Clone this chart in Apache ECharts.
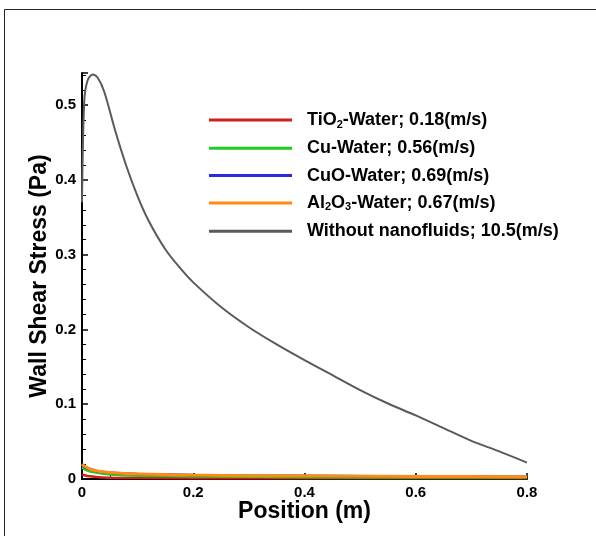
<!DOCTYPE html>
<html>
<head>
<meta charset="utf-8">
<script src="https://cdn.jsdelivr.net/npm/echarts@6/dist/echarts.min.js"></script>
<style>
  html, body { margin: 0; padding: 0; background: #fff; }
  #chart { width: 596px; height: 536px; }
</style>
</head>
<body>
<div id="chart"></div>
<script>
// position (m) / wall shear stress (Pa)
const tio2Data = [[0, 0.006], [0.01, 0.004], [0.03, 0.0025], [0.06, 0.0015], [0.1, 0.0012], [0.3, 0.001], [0.5, 0.001], [0.8, 0.001]];
const cuData = [[0, 0.016], [0.005, 0.013], [0.015, 0.010], [0.03, 0.008], [0.05, 0.006], [0.1, 0.0045], [0.2, 0.0035], [0.4, 0.0025], [0.6, 0.002], [0.8, 0.002]];
const cuoData = [[0, 0.019], [0.005, 0.016], [0.015, 0.013], [0.03, 0.010], [0.05, 0.0085], [0.1, 0.0068], [0.2, 0.0052], [0.3, 0.0045], [0.45, 0.004], [0.6, 0.0035], [0.8, 0.003]];
const al2o3Data = [[0, 0.02], [0.005, 0.017], [0.015, 0.013], [0.03, 0.0105], [0.05, 0.0088], [0.1, 0.0068], [0.2, 0.0052], [0.3, 0.0045], [0.45, 0.004], [0.6, 0.0035], [0.8, 0.003]];
const waterData = [[0, 0.37], [0.004, 0.505], [0.01, 0.533], [0.019, 0.541], [0.028, 0.537], [0.04, 0.518], [0.06, 0.465], [0.08, 0.418], [0.1, 0.378], [0.12, 0.345], [0.15, 0.307], [0.18, 0.279], [0.2, 0.263], [0.25, 0.23], [0.3, 0.203], [0.35, 0.18], [0.4, 0.159], [0.45, 0.139], [0.5, 0.119], [0.55, 0.101], [0.6, 0.085], [0.65, 0.068], [0.7, 0.051], [0.75, 0.037], [0.8, 0.022]];

const seriesNames = ["TiO2", "Cu", "CuO", "Al2O3", "Without"];
const legendLabels = {
  TiO2: "{n|TiO}{s|2}{n|-Water; 0.18(m/s)}",
  Cu: "{n|Cu-Water; 0.56(m/s)}",
  CuO: "{n|CuO-Water; 0.69(m/s)}",
  Al2O3: "{n|Al}{s|2}{n|O}{s|3}{n|-Water; 0.67(m/s)}",
  Without: "{n|Without nanofluids; 10.5(m/s)}"
};
const seriesColors = ["#cc1f1f", "#1fcc1f", "#2b2bdd", "#ff8a14", "#5a5a5a"];
const seriesData = [tio2Data, cuData, cuoData, al2o3Data, waterData];

const font = "'Liberation Sans', Arial, sans-serif";

const chart = echarts.init(document.getElementById("chart"));

const option = {
  backgroundColor: "#fff",
  animation: false,
  grid: { left: 82, right: 69, top: 73, bottom: 57 },
  graphic: [
    {
      type: "rect",
      shape: { x: 4.5, y: 9.5, width: 800, height: 800 },
      style: { fill: "none", stroke: "#222", lineWidth: 1 },
      silent: true,
      z: -1
    }
  ],
  legend: {
    orient: "vertical",
    left: 204,
    top: 106,
    icon: "rect",
    itemWidth: 83,
    itemHeight: 3,
    itemGap: 9.3,
    data: seriesNames,
    formatter: (name) => legendLabels[name],
    textStyle: {
      rich: {
        n: { fontFamily: font, fontWeight: "bold", fontSize: 18, color: "#000", lineHeight: 20 },
        s: { fontFamily: font, fontWeight: "bold", fontSize: 11, color: "#000", verticalAlign: "bottom", lineHeight: 14, padding: [8, 0, 0, 0] }
      },
      padding: [0, 0, 0, 10]
    }
  },
  xAxis: {
    type: "value",
    min: 0,
    max: 0.8,
    interval: 0.2,
    name: "Position (m)",
    nameLocation: "middle",
    nameGap: 21,
    nameMoveOverlap: false,
    nameTextStyle: { fontFamily: font, fontWeight: "bold", fontSize: 23, color: "#000", verticalAlign: "top" },
    axisLine: { lineStyle: { color: "#000", width: 2 } },
    axisTick: { inside: true, length: 6, lineStyle: { color: "#000", width: 1.5 } },
    minorTick: { show: true, splitNumber: 4, length: 4, lineStyle: { color: "#000", width: 1 } },
    axisLabel: { fontFamily: font, fontWeight: "bold", fontSize: 15, color: "#000", margin: 6 },
    splitLine: { show: false }
  },
  yAxis: {
    type: "value",
    min: 0,
    max: 0.543,
    interval: 0.1,
    name: "Wall Shear Stress (Pa)",
    nameLocation: "middle",
    nameGap: 31,
    nameMoveOverlap: false,
    nameTextStyle: { fontFamily: font, fontWeight: "bold", fontSize: 23, color: "#000" },
    axisLine: { show: true, lineStyle: { color: "#000", width: 2 } },
    axisTick: { show: true, inside: true, length: 6, lineStyle: { color: "#000", width: 1.5 } },
    minorTick: { show: true, splitNumber: 5, length: 4, lineStyle: { color: "#000", width: 1 } },
    axisLabel: { fontFamily: font, fontWeight: "bold", fontSize: 15, color: "#000", margin: 6, showMaxLabel: false },
    splitLine: { show: false }
  },
  series: seriesNames.map((name, i) => ({
    name,
    type: "line",
    data: seriesData[i],
    smooth: 0.3,
    symbol: "none",
    lineStyle: { color: seriesColors[i], width: i === 3 ? 3 : i === 4 ? 2 : 2.5 },
    itemStyle: { color: seriesColors[i] },
    z: i === 4 ? 3 : 2 + i * 0.1
  }))
};

chart.setOption(option);
</script>
</body>
</html>
